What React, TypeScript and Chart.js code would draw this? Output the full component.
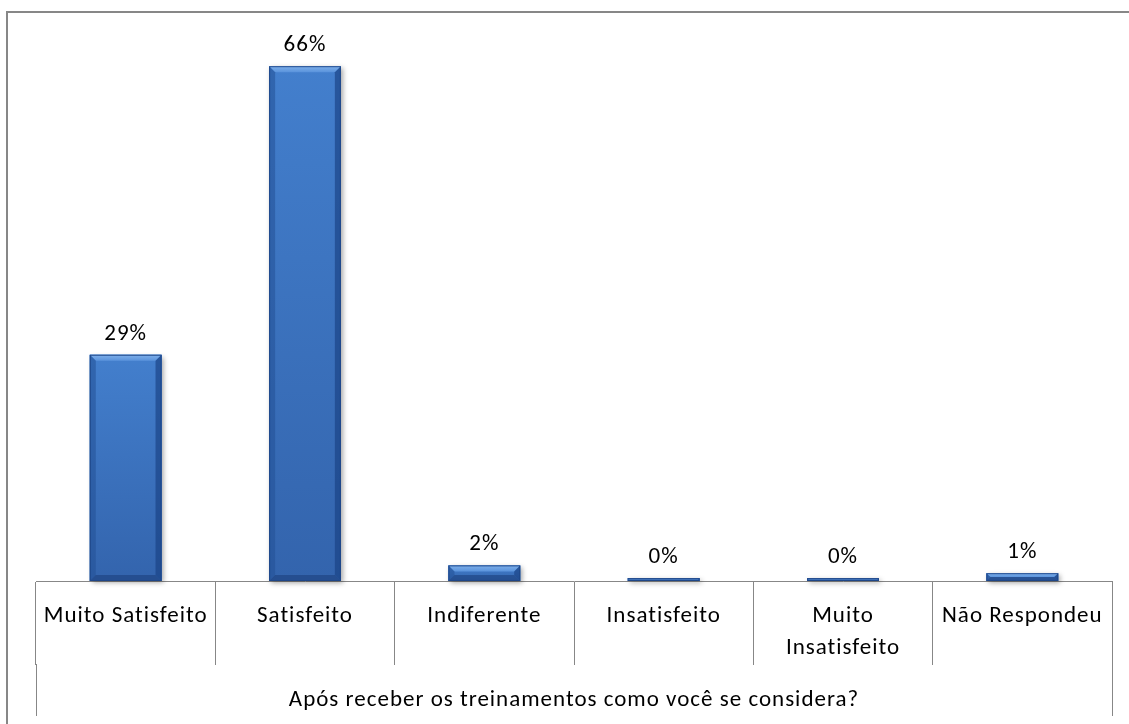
import React, { useEffect, useRef } from "react";
import { Chart, registerables } from "chart.js";

Chart.register(...registerables);

const categories: (string | string[])[] = [
  "Muito Satisfeito",
  "Satisfeito",
  "Indiferente",
  "Insatisfeito",
  ["Muito", "Insatisfeito"],
  "Não Respondeu",
];
const percentages: number[] = [29, 66, 2, 0, 0, 1];
const axisTitle = "Após receber os treinamentos como você se considera?";

const FONT = "Carlito, Calibri, Lato, 'Open Sans', sans-serif";
const FONT_SIZE = 23;
const LINE_COLOR = "#878787";

// Slightly looser tracking for all canvas text
const textSpacing = {
  id: "textSpacing",
  beforeDraw(chart: any) {
    chart.ctx.letterSpacing = "1px";
  },
};

// Soft drop shadow behind every bar
const barShadow = {
  id: "barShadow",
  beforeDatasetsDraw(chart: any) {
    const { ctx } = chart;
    const meta = chart.getDatasetMeta(0);
    ctx.save();
    ctx.shadowColor = "rgba(0,0,0,0.35)";
    ctx.shadowBlur = 5;
    ctx.shadowOffsetX = 2;
    ctx.shadowOffsetY = 2;
    ctx.fillStyle = "#3a72bf";
    meta.data.forEach((bar: any) => {
      const p = bar.getProps(["x", "y", "base", "width"], true);
      const l = p.x - p.width / 2;
      const t = Math.min(p.y, p.base);
      const h = Math.abs(p.base - p.y);
      ctx.fillRect(l, t, p.width, h);
    });
    ctx.restore();
  },
};

// Bevelled faces and value labels on top of the bars
const barBevel = {
  id: "barBevel",
  afterDatasetsDraw(chart: any) {
    const { ctx } = chart;
    const meta = chart.getDatasetMeta(0);
    const values = chart.data.datasets[0].data as number[];
    ctx.save();
    meta.data.forEach((bar: any, i: number) => {
      const p = bar.getProps(["x", "y", "base", "width"], true);
      const l = p.x - p.width / 2;
      const r = p.x + p.width / 2;
      const t = Math.min(p.y, p.base);
      const b = Math.max(p.y, p.base);
      const h = b - t;
      const s = Math.min(6, h / 2, p.width / 2);

      const body = ctx.createLinearGradient(0, t, 0, b);
      body.addColorStop(0, "#437fcd");
      body.addColorStop(1, "#3364ad");
      ctx.fillStyle = body;
      ctx.fillRect(l, t, p.width, h);

      const face = (pts: number[][], color: any) => {
        ctx.beginPath();
        ctx.moveTo(pts[0][0], pts[0][1]);
        for (let k = 1; k < pts.length; k++) ctx.lineTo(pts[k][0], pts[k][1]);
        ctx.closePath();
        ctx.fillStyle = color;
        ctx.fill();
      };
      const topGrad = ctx.createLinearGradient(0, t, 0, t + s);
      topGrad.addColorStop(0, "#7fb0ea");
      topGrad.addColorStop(1, "#5a93dc");
      face([[l, t], [r, t], [r - s, t + s], [l + s, t + s]], topGrad);
      face([[l, t], [l + s, t + s], [l + s, b - s], [l, b]], "rgba(35,80,150,0.55)");
      face([[r, t], [r - s, t + s], [r - s, b - s], [r, b]], "rgba(25,65,130,0.65)");
      face([[l, b], [l + s, b - s], [r - s, b - s], [r, b]], "rgba(25,60,120,0.55)");

      ctx.strokeStyle = "rgba(30,70,135,0.9)";
      ctx.lineWidth = 1;
      ctx.strokeRect(l + 0.5, t + 0.5, p.width - 1, Math.max(h - 1, 0));

      ctx.fillStyle = "#000";
      ctx.font = `${FONT_SIZE}px ${FONT}`;
      ctx.textAlign = "center";
      ctx.textBaseline = "middle";
      ctx.fillText(`${values[i]}%`, p.x, t - 21);
    });
    ctx.restore();
  },
};

// Outer category boundaries run down past the group title
const outerEdges = {
  id: "outerEdges",
  afterDraw(chart: any) {
    const { ctx } = chart;
    const xs = chart.scales.x;
    const y0 = xs.top + 83;
    const y1 = 716;
    ctx.save();
    ctx.strokeStyle = LINE_COLOR;
    ctx.lineWidth = 1;
    [xs.left, xs.right].forEach((x: number) => {
      const px = Math.round(x) + 0.5;
      ctx.beginPath();
      ctx.moveTo(px, y0);
      ctx.lineTo(px, y1);
      ctx.stroke();
    });
    ctx.restore();
  },
};

export default function App() {
  const canvasRef = useRef<HTMLCanvasElement | null>(null);

  useEffect(() => {
    const canvas = canvasRef.current;
    if (!canvas) return;
    const chart = new Chart(canvas, {
      type: "bar",
      data: {
        labels: categories,
        datasets: [
          {
            data: percentages,
            backgroundColor: "#3a72bf",
            borderWidth: 0,
            categoryPercentage: 1,
            barPercentage: 0.4,
            minBarLength: 3,
          },
        ],
      },
      options: {
        responsive: false,
        animation: false,
        events: [],
        layout: { padding: { top: 35, left: 36, right: 17, bottom: 0 } },
        plugins: {
          legend: { display: false },
          tooltip: { enabled: false },
        },
        scales: {
          y: { display: false, min: 0, max: 70 },
          x: {
            afterFit: (axis: any) => {
              axis.height = 143;
            },
            border: { display: true, color: LINE_COLOR, width: 1 },
            grid: {
              offset: true,
              drawOnChartArea: false,
              drawTicks: true,
              tickLength: 84,
              color: LINE_COLOR,
              lineWidth: 1,
            },
            ticks: {
              color: "#000",
              font: { family: FONT, size: FONT_SIZE, lineHeight: 1.36 },
              padding: -64,
              maxRotation: 0,
              autoSkip: false,
            },
            title: {
              display: true,
              text: axisTitle,
              color: "#000",
              font: { family: FONT, size: FONT_SIZE, lineHeight: 1.2 },
              padding: { top: 0, bottom: 10 },
            },
          },
        },
      },
      plugins: [textSpacing, barShadow, barBevel, outerEdges],
    });
    return () => chart.destroy();
  }, []);

  return (
    <div
      style={{
        position: "absolute",
        left: 0,
        top: 0,
        width: 1129,
        height: 724,
        overflow: "hidden",
        background: "#fff",
      }}
    >
      <div
        style={{
          position: "absolute",
          left: 6,
          top: 11,
          width: 1200,
          height: 800,
          borderLeft: `2px solid ${LINE_COLOR}`,
          borderTop: `2px solid ${LINE_COLOR}`,
        }}
      />
      <canvas
        ref={canvasRef}
        width={1129}
        height={724}
        style={{ position: "absolute", left: 0, top: 0 }}
      />
    </div>
  );
}
